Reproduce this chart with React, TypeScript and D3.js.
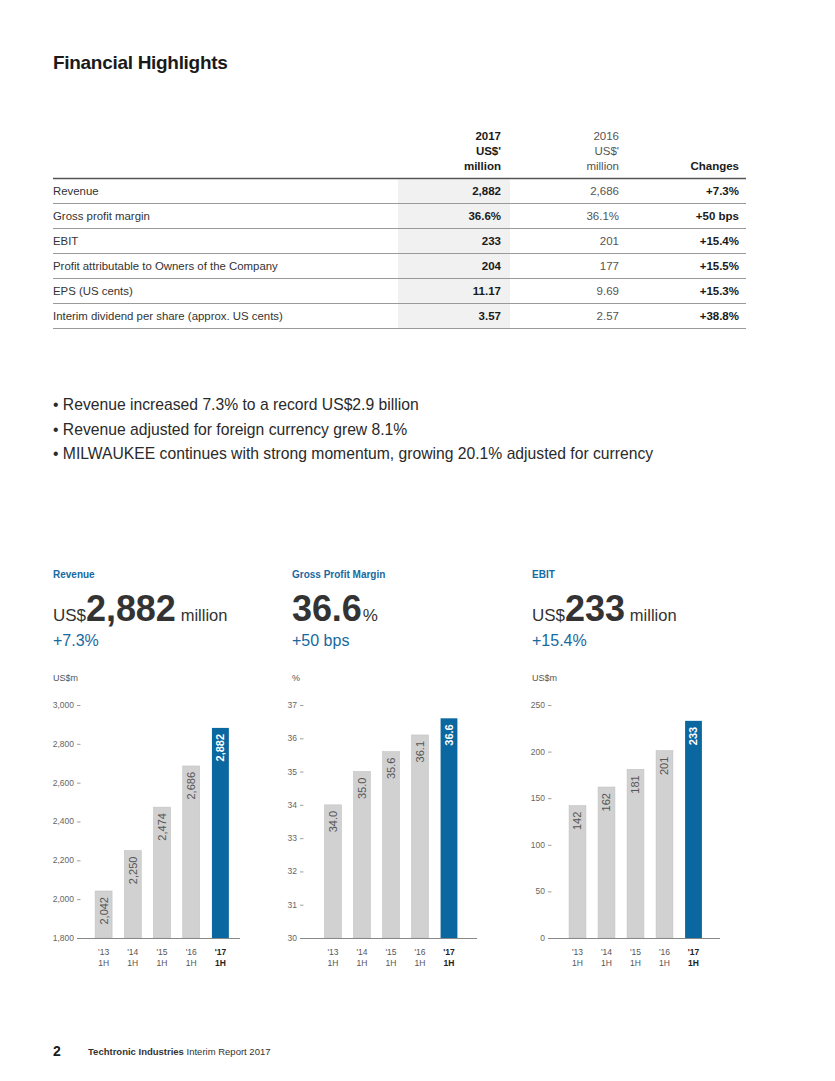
import React from "react";
import * as d3 from "d3";

// ---------- DATA ----------
const tableHeaders = [
  ["2017", "US$'", "million"],
  ["2016", "US$'", "million"],
  ["Changes"],
];
const tableLabels = [
  "Revenue",
  "Gross profit margin",
  "EBIT",
  "Profit attributable to Owners of the Company",
  "EPS (US cents)",
  "Interim dividend per share (approx. US cents)",
];
const values2017 = ["2,882", "36.6%", "233", "204", "11.17", "3.57"];
const values2016 = ["2,686", "36.1%", "201", "177", "9.69", "2.57"];
const changes = ["+7.3%", "+50 bps", "+15.4%", "+15.5%", "+15.3%", "+38.8%"];

const bullets = [
  "Revenue increased 7.3% to a record US$2.9 billion",
  "Revenue adjusted for foreign currency grew 8.1%",
  "MILWAUKEE continues with strong momentum, growing 20.1% adjusted for currency",
];

const periods = ["'13", "'14", "'15", "'16", "'17"];
const periodSub = "1H";

const revenueValues = [2042, 2250, 2474, 2686, 2882];
const revenueLabels = ["2,042", "2,250", "2,474", "2,686", "2,882"];
const revenueTicks = [1800, 2000, 2200, 2400, 2600, 2800, 3000];

const gpmValues = [34.0, 35.0, 35.6, 36.1, 36.6];
const gpmLabels = ["34.0", "35.0", "35.6", "36.1", "36.6"];
const gpmTicks = [30, 31, 32, 33, 34, 35, 36, 37];

const ebitValues = [142, 162, 181, 201, 233];
const ebitLabels = ["142", "162", "181", "201", "233"];
const ebitTicks = [0, 50, 100, 150, 200, 250];

// ---------- STYLE ----------
const BLUE = "#0b67a0";
const TEXT_BLUE = "#1769a0";
const GREY_BAR = "#d1d1d1";
const FONT = "'Liberation Sans', Arial, sans-serif";

type PanelProps = {
  x0: number;
  title: string;
  prefix?: string;
  big: string;
  suffix?: string;
  suffixSmall?: boolean;
  change: string;
  unit: string;
  values: number[];
  labels: string[];
  ticks: number[];
  domain: [number, number];
  tickX: number;
  bandRange: [number, number];
  axisEnd: number;
  tickFmt: (v: number) => string;
};

function Panel(p: PanelProps) {
  const yTop = 705;
  const yBot = 938;
  const y = d3.scaleLinear().domain(p.domain).range([yBot, yTop]);
  const x = d3
    .scaleBand<string>()
    .domain(periods)
    .range(p.bandRange)
    .paddingInner(0.42)
    .paddingOuter(0.21);
  const bw = x.bandwidth();
  return (
    <g>
      <text x={p.x0} y={578} fontSize={10} fontWeight="bold" fill={TEXT_BLUE} fontFamily={FONT}>
        {p.title}
      </text>
      <text x={p.x0} y={621} fill="#333" fontFamily={FONT}>
        {p.prefix && <tspan fontSize={17}>{p.prefix}</tspan>}
        <tspan fontSize={36} fontWeight="bold" letterSpacing={-0.1}>
          {p.big}
        </tspan>
        {p.suffix && (
          <tspan fontSize={p.suffixSmall ? 17 : 16.5} dx={p.suffixSmall ? 1 : 5}>
            {p.suffix}
          </tspan>
        )}
      </text>
      <text x={p.x0} y={646} fontSize={16} fill={TEXT_BLUE} fontFamily={FONT}>
        {p.change}
      </text>
      <text x={p.x0} y={681} fontSize={9} fill="#555" fontFamily={FONT}>
        {p.unit}
      </text>
      {p.ticks.map((t) => (
        <g key={t}>
          <text
            x={p.tickX - 3}
            y={y(t)}
            dy="0.35em"
            textAnchor="end"
            fontSize={8.5}
            fill="#666"
            fontFamily={FONT}
          >
            {p.tickFmt(t)}
          </text>
          <line x1={p.tickX} x2={p.tickX + 3.5} y1={y(t) + 0.5} y2={y(t) + 0.5} stroke="#888" strokeWidth={0.8} />
        </g>
      ))}
      {periods.map((per, i) => {
        const last = i === periods.length - 1;
        const bx = x(per) as number;
        const top = y(p.values[i]);
        const cx = bx + bw / 2;
        return (
          <g key={per}>
            <rect
              x={bx}
              y={top}
              width={bw}
              height={yBot - top}
              fill={last ? BLUE : GREY_BAR}
              stroke={last ? "none" : "#c2c2c2"}
              strokeWidth={0.6}
            />
            <text
              transform={`translate(${cx},${top + 6}) rotate(-90)`}
              textAnchor="end"
              dy="0.36em"
              fontSize={11}
              fontWeight={last ? "bold" : "normal"}
              fill={last ? "#fff" : "#555"}
              fontFamily={FONT}
            >
              {p.labels[i]}
            </text>
            <text
              x={cx}
              y={955}
              textAnchor="middle"
              fontSize={8.5}
              fontWeight={last ? "bold" : "normal"}
              fill={last ? "#222" : "#555"}
              fontFamily={FONT}
            >
              {per}
            </text>
            <text
              x={cx}
              y={966}
              textAnchor="middle"
              fontSize={8.5}
              fontWeight={last ? "bold" : "normal"}
              fill={last ? "#222" : "#555"}
              fontFamily={FONT}
            >
              {periodSub}
            </text>
          </g>
        );
      })}
      <line x1={p.tickX} x2={p.axisEnd} y1={yBot + 0.5} y2={yBot + 0.5} stroke="#888" strokeWidth={1} />
    </g>
  );
}

export default function App() {
  const colRight = [501, 619, 739];
  const tableTop = 178.5;
  const rowH = 25;
  const fmtComma = d3.format(",");
  return (
    <div style={{ position: "absolute", left: 0, top: 0 }}>
      <svg width={835} height={1081} viewBox="0 0 835 1081" style={{ display: "block", background: "#fff" }}>
        <rect width={835} height={1081} fill="#fff" />
        <text x={53} y={69} fontSize={19} fontWeight="bold" fill="#1a1a1a" fontFamily={FONT} letterSpacing={-0.3}>
          Financial Highlights
        </text>

        {/* table shaded column */}
        <rect x={398} y={tableTop + 1} width={112} height={rowH * 6 - 1} fill="#f1f1f1" />

        {/* headers */}
        {tableHeaders.map((lines, ci) =>
          lines.map((ln, li) => {
            const n = lines.length;
            const yy = 170 - (n - 1 - li) * 15;
            return (
              <text
                key={ci + "-" + li}
                x={colRight[ci]}
                y={yy}
                textAnchor="end"
                fontSize={11.5}
                fontWeight={ci === 1 ? "normal" : "bold"}
                fill={ci === 1 ? "#555" : "#1a1a1a"}
                fontFamily={FONT}
              >
                {ln}
              </text>
            );
          })
        )}

        <line x1={53} x2={746} y1={tableTop} y2={tableTop} stroke="#555" strokeWidth={1.5} />
        {tableLabels.map((lab, i) => {
          const yLine = tableTop + rowH * (i + 1);
          const base = tableTop + rowH * i + 16.5;
          return (
            <g key={lab}>
              <text x={53} y={base} fontSize={11.4} fill="#333" fontFamily={FONT}>
                {lab}
              </text>
              <text x={colRight[0]} y={base} textAnchor="end" fontSize={11.5} fontWeight="bold" fill="#1a1a1a" fontFamily={FONT}>
                {values2017[i]}
              </text>
              <text x={colRight[1]} y={base} textAnchor="end" fontSize={11.5} fill="#555" fontFamily={FONT}>
                {values2016[i]}
              </text>
              <text x={colRight[2]} y={base} textAnchor="end" fontSize={11.5} fontWeight="bold" fill="#1a1a1a" fontFamily={FONT}>
                {changes[i]}
              </text>
              <line x1={53} x2={746} y1={yLine} y2={yLine} stroke="#9a9a9a" strokeWidth={1} />
            </g>
          );
        })}

        {/* bullets */}
        {bullets.map((b, i) => (
          <text key={i} x={53} y={410 + i * 24.5} fontSize={15.7} fill="#2a2a2a" fontFamily={FONT}>
            {"\u2022 " + b}
          </text>
        ))}

        <Panel
          x0={53}
          title="Revenue"
          prefix="US$"
          big="2,882"
          suffix="million"
          change="+7.3%"
          unit="US$m"
          values={revenueValues}
          labels={revenueLabels}
          ticks={revenueTicks}
          domain={[1800, 3000]}
          tickX={77}
          bandRange={[89, 235]}
          axisEnd={240}
          tickFmt={(v) => fmtComma(v)}
        />
        <Panel
          x0={292}
          title="Gross Profit Margin"
          big="36.6"
          suffix="%"
          suffixSmall
          change="+50 bps"
          unit="%"
          values={gpmValues}
          labels={gpmLabels}
          ticks={gpmTicks}
          domain={[30, 37]}
          tickX={300}
          bandRange={[318.5, 463.5]}
          axisEnd={477}
          tickFmt={(v) => String(v)}
        />
        <Panel
          x0={532}
          title="EBIT"
          prefix="US$"
          big="233"
          suffix="million"
          change="+15.4%"
          unit="US$m"
          values={ebitValues}
          labels={ebitLabels}
          ticks={ebitTicks}
          domain={[0, 250]}
          tickX={548}
          bandRange={[563, 708]}
          axisEnd={720}
          tickFmt={(v) => String(v)}
        />

        {/* footer */}
        <text x={53} y={1056} fontSize={14} fontWeight="bold" fill="#1a1a1a" fontFamily={FONT}>
          2
        </text>
        <text x={88} y={1055} fontSize={9.5} fill="#333" fontFamily={FONT}>
          <tspan fontWeight="bold">Techtronic Industries</tspan>
          <tspan> Interim Report 2017</tspan>
        </text>
      </svg>
    </div>
  );
}
